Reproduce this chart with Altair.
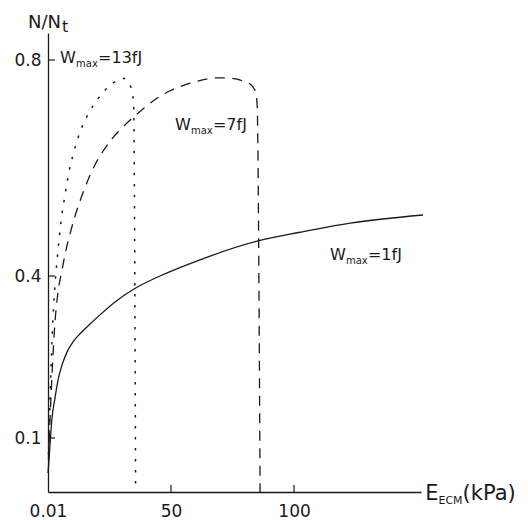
import altair as alt
import pandas as pd

# Cell fraction N/Nt versus ECM stiffness for three maximal work values
E_1fJ = [0.01, 0.81, 1.63, 2.85, 4.07, 5.69, 7.72, 10.16, 13.0, 17.07, 21.14, 27.24, 34.96, 45.5,
         61.8, 85.4, 102.4, 122.8, 152.4]
N_1fJ = [0.035, 0.087, 0.137, 0.174, 0.207, 0.235, 0.259, 0.278, 0.293, 0.311, 0.328, 0.352, 0.376, 0.400,
         0.430, 0.465, 0.481, 0.498, 0.513]

E_7fJ = [0.2, 0.81, 1.63, 2.85, 4.07, 5.69, 7.3, 8.94, 10.98, 13.41, 16.26, 19.1, 22.36, 26.0, 30.9,
         36.2, 42.7, 49.6, 55.7, 61.8, 68.7, 74.8, 79.3, 82.5, 84.3, 85.0, 86.2]
N_7fJ = [0.059, 0.133, 0.217, 0.315, 0.370, 0.411, 0.448, 0.478, 0.511, 0.544, 0.578, 0.606, 0.631, 0.654, 0.678,
         0.700, 0.724, 0.743, 0.754, 0.762, 0.767, 0.766, 0.761, 0.754, 0.741, 0.717, 0.0]

E_13fJ = [0.2, 0.81, 1.42, 2.03, 2.85, 4.07, 5.28, 6.9, 8.54, 10.16, 12.2, 14.2, 17.1, 20.3, 23.2,
          26.0, 28.5, 30.5, 32.1, 33.3, 34.3, 34.8, 35.6]
N_13fJ = [0.069, 0.170, 0.254, 0.324, 0.383, 0.448, 0.500, 0.550, 0.593, 0.624, 0.656, 0.680, 0.706, 0.728, 0.744,
          0.756, 0.763, 0.766, 0.763, 0.754, 0.739, 0.717, 0.013]

# Curve labels: "W" + subscript "max" + value text, anchored at (E, N)
label_rest = ["=1fJ", "=7fJ", "=13fJ"]
label_E = [114.6, 51.6, 4.9]
label_N = [0.430, 0.670, 0.794]

x_ticks = [0, 50, 100]
y_ticks = [0.1, 0.4, 0.8]

FONT = "DejaVu Sans"
INK = "#1a1a1a"

W, H = 373, 459
x_scale = alt.Scale(domain=[0, 151.6], nice=False, zero=False)
y_scale = alt.Scale(domain=[0, 0.85], nice=False, zero=False)


def curve(E, N, dash, width):
    df = pd.DataFrame({"E": E, "N": N})
    kw = dict(color=INK, strokeWidth=width, interpolate="monotone", clip=False)
    if dash:
        kw["strokeDash"] = dash
    return alt.Chart(df).mark_line(**kw).encode(
        x=alt.X("E:Q", scale=x_scale,
                axis=alt.Axis(values=x_ticks, ticks=False, grid=False, title=None,
                              labelExpr="datum.value == 0 ? '0.01' : datum.label",
                              labelFlush=False, labelPadding=11, labelFontSize=17)),
        y=alt.Y("N:Q", scale=y_scale,
                axis=alt.Axis(values=y_ticks, ticks=False, grid=False, title=None,
                              format=".1f", labelFlush=False, labelPadding=7, labelFontSize=17)),
    )


solid = curve(E_1fJ, N_1fJ, None, 1.3)
dashed = curve(E_7fJ, N_7fJ, [10, 7.5], 1.3)
dotted = curve(E_13fJ, N_13fJ, [2.5, 8.5], 1.5)

# Inward ticks drawn as short rules
yt = alt.Chart(pd.DataFrame({"N": y_ticks})).mark_rule(color=INK, strokeWidth=1.2).encode(
    y=alt.Y("N:Q", scale=y_scale), x=alt.value(0), x2=alt.value(7))
xt = alt.Chart(pd.DataFrame({"E": x_ticks[1:]})).mark_rule(color=INK, strokeWidth=1.2).encode(
    x=alt.X("E:Q", scale=x_scale), y=alt.value(H), y2=alt.value(H - 7))

labels = pd.DataFrame({"E": label_E, "N": label_N, "rest": label_rest})
base = alt.Chart(labels).encode(x=alt.X("E:Q", scale=x_scale), y=alt.Y("N:Q", scale=y_scale))
lab_w = base.mark_text(align="left", baseline="alphabetic", font=FONT, fontSize=16,
                       color=INK, clip=False).encode(text=alt.value("W"))
lab_max = base.mark_text(align="left", baseline="alphabetic", font=FONT, fontSize=10,
                         color=INK, dx=16, dy=4, clip=False).encode(text=alt.value("max"))
lab_rest = base.mark_text(align="left", baseline="alphabetic", font=FONT, fontSize=16,
                          color=INK, dx=38, clip=False).encode(text="rest:N")

# Axis titles with subscripts
ytitle = pd.DataFrame({"E": [-8.1], "N": [0.859]})
yb = alt.Chart(ytitle).encode(x=alt.X("E:Q", scale=x_scale), y=alt.Y("N:Q", scale=y_scale))
yt1 = yb.mark_text(align="left", baseline="alphabetic", font=FONT, fontSize=18,
                   color=INK, clip=False).encode(text=alt.value("N/N"))
yt2 = yb.mark_text(align="left", baseline="alphabetic", font=FONT, fontSize=16,
                   color=INK, dx=34, dy=4, clip=False).encode(text=alt.value("t"))

xtitle = pd.DataFrame({"E": [153.3], "N": [-0.0148]})
xb = alt.Chart(xtitle).encode(x=alt.X("E:Q", scale=x_scale), y=alt.Y("N:Q", scale=y_scale))
xt1 = xb.mark_text(align="left", baseline="alphabetic", font=FONT, fontSize=21,
                   color=INK, clip=False).encode(text=alt.value("E"))
xt2 = xb.mark_text(align="left", baseline="alphabetic", font=FONT, fontSize=11,
                   color=INK, dx=13.3, dy=4, clip=False).encode(text=alt.value("ECM"))
xt3 = xb.mark_text(align="left", baseline="alphabetic", font=FONT, fontSize=21,
                   color=INK, dx=37.4, clip=False).encode(text=alt.value("(kPa)"))

chart = alt.layer(
    solid, dashed, dotted, yt, xt, lab_w, lab_max, lab_rest, yt1, yt2, xt1, xt2, xt3
).properties(
    width=W, height=H,
    autosize=alt.AutoSizeParams(type="none"),
    padding={"left": 48, "top": 33, "right": 528 - 48 - W, "bottom": 520 - 33 - H},
    background="white",
).configure_view(stroke="transparent").configure_axis(
    domainColor=INK, domainWidth=1.3, labelFont=FONT, labelColor=INK,
)

chart.save("out.html", embed_options={"renderer": "svg", "actions": False})
